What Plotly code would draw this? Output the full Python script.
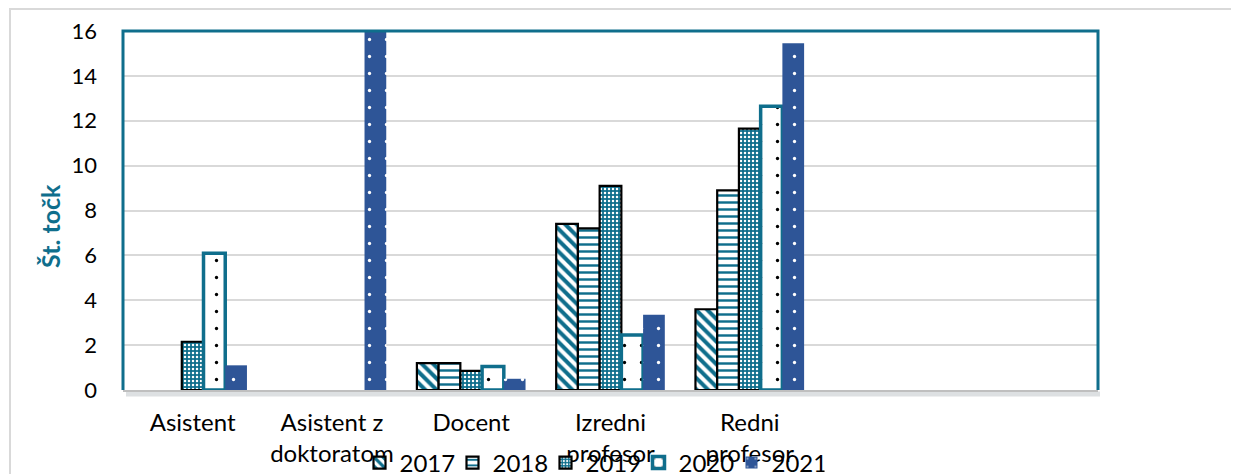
import plotly.graph_objects as go

categories = ["Asistent", "Asistent z<br>doktoratom", "Docent", "Izredni<br>profesor", "Redni<br>profesor", " ", "  "]
years = ["2017", "2018", "2019", "2020", "2021"]
v2017 = [None, None, 1.2, 7.4, 3.6, None, None]
v2018 = [None, None, 1.2, 7.2, 8.9, None, None]
v2019 = [2.15, None, 0.85, 9.1, 11.65, None, None]
v2020 = [6.1, None, 1.05, 2.45, 12.65, None, None]
v2021 = [1.1, 16.0, 0.5, 3.35, 15.45, None, None]
values = [v2017, v2018, v2019, v2020, v2021]
yticks = [0, 2, 4, 6, 8, 10, 12, 14, 16]
y_title = "Št. točk"

TEAL = "#0F6E8C"
BLUE = "#2E5597"
FONT = "Lato"

styles = [
    dict(pattern=dict(shape="\\", fgcolor=TEAL, bgcolor="white", size=8, solidity=0.5, fillmode="replace"),
         line=dict(color="black", width=2.2)),
    dict(pattern=dict(shape="-", fgcolor=TEAL, bgcolor="white", size=7, solidity=0.35, fillmode="replace"),
         line=dict(color="black", width=2.2)),
    dict(pattern=dict(shape=".", fgcolor="white", bgcolor=TEAL, size=4, solidity=0.3, fillmode="replace"),
         line=dict(color="black", width=2.2)),
    dict(pattern=dict(shape=".", fgcolor="black", bgcolor="white", size=17, solidity=0.03, fillmode="replace"),
         line=dict(color=TEAL, width=3.5)),
    dict(pattern=dict(shape=".", fgcolor="white", bgcolor=BLUE, size=17, solidity=0.03, fillmode="replace"),
         line=dict(color=BLUE, width=0)),
]

fig = go.Figure()
for name, vals, st in zip(years, values, styles):
    fig.add_trace(go.Bar(
        x=categories, y=vals, name=name,
        marker=dict(color=st["pattern"]["bgcolor"], pattern=st["pattern"], line=st["line"]),
    ))

OFF = 8  # page body margin
W, H = 1239 - 2 * OFF, 474 - OFF
L, T = 123 - OFF, 31 - OFF
pw, ph = 1098 - 123, 390 - 31
R, B = W - L - pw, H - T - ph

def px(xabs):
    return (xabs - OFF - L) / pw

def py(yabs):
    return (T + ph - (yabs - OFF)) / ph

shapes = [
    dict(type="line", xref="paper", yref="paper", x0=px(126), x1=px(1100), y0=py(394), y1=py(394),
         line=dict(color="rgba(120,130,140,0.25)", width=5), layer="below"),
    dict(type="rect", xref="paper", yref="paper", x0=px(10), x1=px(1238), y0=py(520), y1=py(9),
         line=dict(color="#D9D9D9", width=2), fillcolor="rgba(0,0,0,0)", layer="below"),
    dict(type="path", xref="paper", yref="paper",
         path="M 0 0 L 0 1 L 1 1 L 1 0", line=dict(color=TEAL, width=3)),
]

fig.update_layout(
    width=W, height=H,
    margin=dict(l=L, r=R, t=T, b=B, pad=0, autoexpand=False),
    paper_bgcolor="white", plot_bgcolor="white",
    barmode="group", bargap=0.22, bargroupgap=0,
    font=dict(family=FONT, size=22, color="black"),
    showlegend=True,
    legend=dict(orientation="h", xref="container", yref="container",
                x=(592 - OFF) / W, xanchor="center", y=1 - (463 - OFF) / H, yanchor="middle",
                font=dict(size=24, family=FONT), bgcolor="rgba(0,0,0,0)",
                borderwidth=8, bordercolor="rgba(0,0,0,0)",
                itemwidth=30, tracegroupgap=0, entrywidth=48),
    shapes=shapes,
    annotations=[dict(text=f"<b>{y_title}</b>", xref="paper", yref="paper", x=px(50), y=py(226),
                      xanchor="center", yanchor="middle", textangle=-90, showarrow=False,
                      font=dict(size=25, color=TEAL, family=FONT))],
    xaxis=dict(categoryorder="array", categoryarray=categories, showgrid=False, automargin=False,
               showline=True, linecolor="#BFBFBF", linewidth=2, ticks="",
               tickfont=dict(size=24, family=FONT), ticklabelstandoff=10, fixedrange=True),
    yaxis=dict(range=[0, 16], tickvals=yticks, showgrid=True, gridcolor="#D9D9D9", gridwidth=1.5,
               zeroline=False, showline=False, ticks="", ticklabelstandoff=25, automargin=False,
               tickfont=dict(size=22, family=FONT)),
)

fig.write_html("out.html")
